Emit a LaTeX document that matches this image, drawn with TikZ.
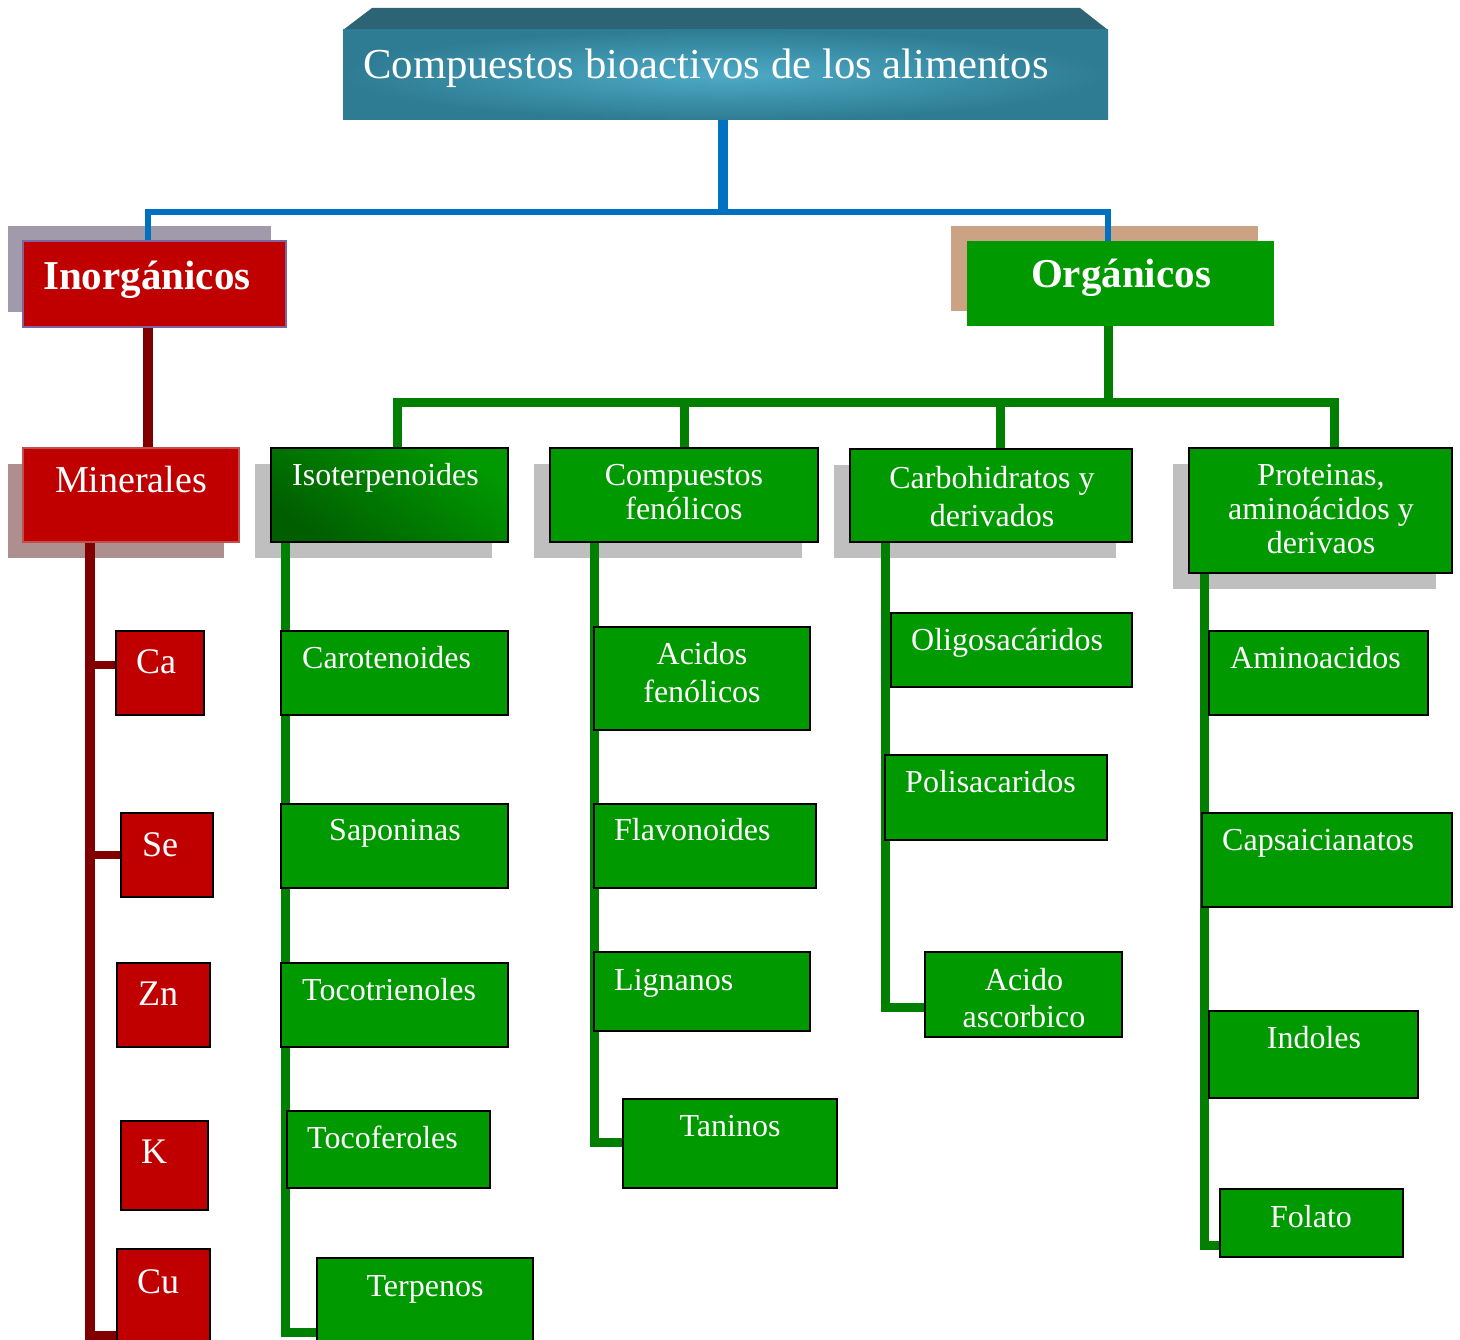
\documentclass[tikz,border=0pt]{standalone}
\usepackage{fontspec}
\setmainfont{Liberation Serif}
\usetikzlibrary{calc}
\pgfdeclarelayer{shade}
\pgfdeclarelayer{wires}
\pgfsetlayers{shade,wires,main}

\definecolor{titletop}{HTML}{2D6475}
\definecolor{titleout}{HTML}{2E7C93}
\definecolor{titlein}{HTML}{4DAAC6}
\definecolor{linkblue}{HTML}{0070C0}
\definecolor{boxred}{HTML}{C00000}
\definecolor{linkred}{HTML}{800000}
\definecolor{inshadow}{HTML}{A09AAA}
\definecolor{inborder}{HTML}{8064A2}
\definecolor{minshadow}{HTML}{AE8F8F}
\definecolor{minborder}{HTML}{C0504D}
\definecolor{boxgreen}{HTML}{009900}
\definecolor{darkgreen}{HTML}{005E00}
\definecolor{linkgreen}{HTML}{007F00}
\definecolor{orgshadow}{HTML}{CBA283}
\definecolor{grayshadow}{HTML}{BFBFBF}

% box from its top-left corner (x1,y1) to its bottom-right corner (x2,y2)
\newcommand\bx[6]{\node[#1, minimum width={#5-#3}, minimum height={#6-#4}] (#2) at (#3,#4) {};}
% two or three centred lines, the node's base on the first line
\newcommand\lines[1]{\begin{tabular}[t]{@{}c@{}}#1\end{tabular}}

\begin{document}
\begin{tikzpicture}[x=1pt,y=-1pt,
  frame/.style={anchor=north west, inner sep=0pt, outer sep=0pt},
  gbox/.style={frame, fill=boxgreen, draw=black, line width=2pt},
  rbox/.style={frame, fill=boxred, draw=black, line width=2pt},
  txt/.style={text=white, inner sep=0pt, font=\fontsize{32}{34}\selectfont},
  mtxt/.style={text=white, inner sep=0pt, font=\fontsize{36}{40}\selectfont},
  htxt/.style={text=white, inner sep=0pt, font=\fontsize{41}{46}\selectfont\bfseries},
  bline/.style={draw=linkblue, line width=6pt},
  rline/.style={draw=linkred, line width=10pt},
  gline/.style={draw=linkgreen, line width=9pt},
]
\useasboundingbox (0,0) rectangle (1460,1340);

% ---- title block ----
\fill[titletop] (343,30) -- (372,8) -- (1080,8) -- (1108,30) -- cycle;
\node[frame, minimum width=765pt, minimum height=90pt, inner color=titlein, outer color=titleout] (title) at (343,30) {};
\node[anchor=base west, text=white, inner sep=0pt, font=\fontsize{42.7}{46}\selectfont] (title-t) at (363,79) {Compuestos bioactivos de los alimentos};

% ---- first level ----
\bx{frame, fill=boxred, draw=inborder, line width=2pt}{inorg}{23}{241}{286}{327}
\node[htxt, anchor=base west] (inorg-t) at (43,290) {Inorgánicos};
\bx{frame, fill=boxgreen}{org}{967}{241}{1274}{326}
\node[htxt, anchor=base] (org-t) at (1121,288) {Orgánicos};

% ---- inorganic branch ----
\bx{frame, fill=boxred, draw=minborder, line width=2pt}{miner}{23}{448}{239}{542}
\node[mtxt, anchor=base, font=\fontsize{38}{42}\selectfont] (miner-t) at (131,492) {Minerales};
\bx{rbox}{ca}{116}{631}{204}{715}
\node[mtxt, anchor=base west] (ca-t) at (136,673) {Ca};
\bx{rbox}{se}{121}{813}{213}{897}
\node[mtxt, anchor=base west] (se-t) at (142,856) {Se};
\bx{rbox}{zn}{117}{963}{210}{1047}
\node[mtxt, anchor=base west] (zn-t) at (138,1005) {Zn};
\bx{rbox}{k}{121}{1121}{208}{1210}
\node[mtxt, anchor=base west] (k-t) at (141,1163) {K};
\bx{rbox}{cu}{117}{1249}{210}{1350}
\node[mtxt, anchor=base west] (cu-t) at (137,1293) {Cu};

% ---- organic branch: groups ----
\bx{gbox, top color=boxgreen, bottom color=darkgreen, shading angle=-35}{iso}{271}{448}{508}{542}
\node[txt, anchor=base west] (iso-t) at (292,485) {Isoterpenoides};
\bx{gbox}{fen}{550}{448}{818}{542}
\node[txt, anchor=base] (fen-t) at (684,485) {\lines{Compuestos\\fenólicos}};
\bx{gbox}{carb}{850}{449}{1132}{542}
\node[txt, anchor=base, font=\fontsize{32}{38}\selectfont] (carb-t) at (992,488) {\lines{Carbohidratos y\\derivados}};
\bx{gbox}{prot}{1189}{448}{1452}{573}
\node[txt, anchor=base] (prot-t) at (1321,485) {\lines{Proteinas,\\aminoácidos y\\derivaos}};

% ---- isoterpenoides ----
\bx{gbox}{caro}{281}{631}{508}{715}
\node[txt, anchor=base west] (caro-t) at (302,668) {Carotenoides};
\bx{gbox}{sapo}{281}{804}{508}{888}
\node[txt, anchor=base] (sapo-t) at (395,840) {Saponinas};
\bx{gbox}{toct}{281}{963}{508}{1047}
\node[txt, anchor=base west] (toct-t) at (302,1000) {Tocotrienoles};
\bx{gbox}{tocf}{287}{1111}{490}{1188}
\node[txt, anchor=base west] (tocf-t) at (307,1148) {Tocoferoles};
\bx{gbox}{terp}{317}{1258}{533}{1350}
\node[txt, anchor=base] (terp-t) at (425,1296) {Terpenos};

% ---- compuestos fenolicos ----
\bx{gbox}{acf}{594}{627}{810}{730}
\node[txt, anchor=base, font=\fontsize{32}{38}\selectfont] (acf-t) at (702,664) {\lines{Acidos\\fenólicos}};
\bx{gbox}{flav}{594}{804}{816}{888}
\node[txt, anchor=base west] (flav-t) at (614,840) {Flavonoides};
\bx{gbox}{lign}{594}{952}{810}{1031}
\node[txt, anchor=base west] (lign-t) at (614,990) {Lignanos};
\bx{gbox}{tan}{623}{1099}{837}{1188}
\node[txt, anchor=base] (tan-t) at (730,1136) {Taninos};

% ---- carbohidratos ----
\bx{gbox}{olig}{891}{613}{1132}{687}
\node[txt, anchor=base west] (olig-t) at (911,650) {Oligosacáridos};
\bx{gbox}{poli}{885}{755}{1107}{840}
\node[txt, anchor=base west] (poli-t) at (905,792) {Polisacaridos};
\bx{gbox}{asc}{925}{952}{1122}{1037}
\node[txt, anchor=base, font=\fontsize{32}{37}\selectfont] (asc-t) at (1024,990) {\lines{Acido\\ascorbico}};

% ---- proteinas ----
\bx{gbox}{amin}{1209}{631}{1428}{715}
\node[txt, anchor=base west] (amin-t) at (1230,668) {Aminoacidos};
\bx{gbox}{caps}{1202}{813}{1452}{907}
\node[txt, anchor=base west] (caps-t) at (1222,850) {Capsaicianatos};
\bx{gbox}{indo}{1209}{1011}{1418}{1098}
\node[txt, anchor=base] (indo-t) at (1314,1048) {Indoles};
\bx{gbox}{fola}{1220}{1189}{1403}{1257}
\node[txt, anchor=base] (fola-t) at (1311,1227) {Folato};

% ---- connectors ----
\begin{pgfonlayer}{wires}
  % title to the two main classes
  \coordinate (bl) at (148,212);
  \coordinate (br) at (1108,212);
  \draw[linkblue, line width=10pt] (title.south -| 723,0) -- (723,214);
  \draw[bline] (bl |- inorg.north) -- (bl) -- (br) -- (br |- org.north);
  % inorganic chain
  \draw[rline] (bl |- inorg.south) -- (bl |- miner.north);
  \coordinate (mx) at (90,1336);
  \draw[rline] (mx |- miner.south) -- (mx) -- (mx -| cu.west);
  \draw[linkred, line width=8pt] (mx |- 0,665) -- (ca.west |- 0,665);
  \draw[linkred, line width=8pt] (mx |- 0,855) -- (se.west |- 0,855);
  % organic tree
  \coordinate (gy) at (0,403);
  \draw[gline] (br |- org.south) -- (br |- gy);
  \draw[gline] (iso.north -| 397,0) -- (397,403) -- (1334,403) -- (1334,403 |- prot.north);
  \draw[gline] (684,403) -- (684,403 |- fen.north);
  \draw[gline] (1000,403) -- (1000,403 |- carb.north);
  % columns
  \coordinate (c1) at (285.5,1332);
  \draw[gline] (c1 |- iso.south) -- (c1) -- (c1 -| terp.west);
  \coordinate (c2) at (594,1142);
  \draw[gline] (c2 |- fen.south) -- (c2) -- (c2 -| tan.west);
  \coordinate (c3) at (885,1007);
  \draw[gline] (c3 |- carb.south) -- (c3) -- (c3 -| asc.west);
  \coordinate (c4) at (1204,1245);
  \draw[gline] (c4 |- prot.south) -- (c4) -- (c4 -| fola.west);
\end{pgfonlayer}

% ---- shadows ----
\begin{pgfonlayer}{shade}
  \fill[white] (0,0) rectangle (1460,1340);
  \fill[inshadow] ($(inorg.north west)+(-15,-15)$) rectangle ($(inorg.south east)+(-15,-15)$);
  \fill[orgshadow] ($(org.north west)+(-16,-15)$) rectangle ($(org.south east)+(-16,-15)$);
  \fill[minshadow] ($(miner.north west)+(-15,16)$) rectangle ($(miner.south east)+(-15,16)$);
  \foreach \g in {iso,fen,carb,prot}
    \fill[grayshadow] ($(\g.north west)+(-16,16)$) rectangle ($(\g.south east)+(-16,16)$);
\end{pgfonlayer}
\end{tikzpicture}
\end{document}
